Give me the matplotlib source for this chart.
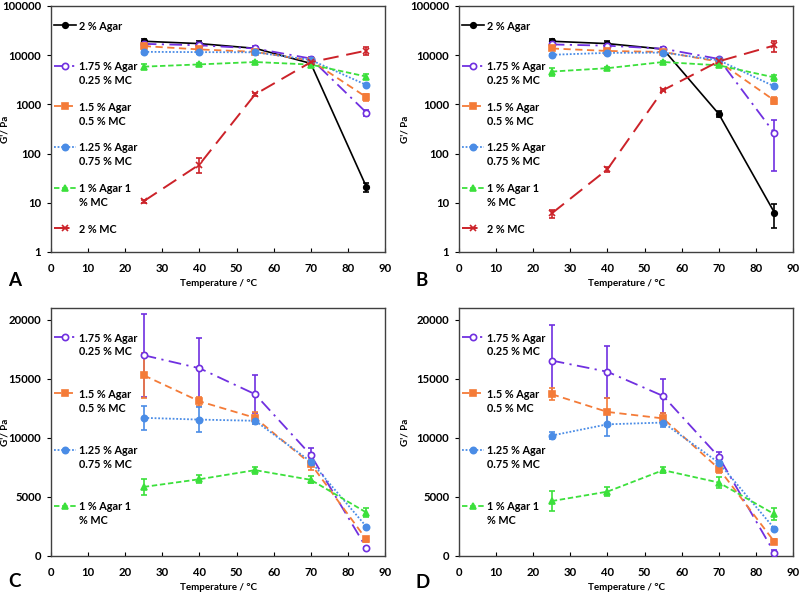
import matplotlib
matplotlib.use("Agg")
import matplotlib.pyplot as plt
from matplotlib.legend_handler import HandlerLine2D
from matplotlib.ticker import FixedLocator, FixedFormatter

plt.rcParams['font.family'] = ['Lato', 'DejaVu Sans']
plt.rcParams['font.weight'] = 'bold'

temps = [25, 40, 55, 70, 85]

# Day 1 (panels A, C)
agar2_1 = [19200, 17200, 13800, 6800, 21]
agar2_1_err = [2000, 1800, 1000, 600, 4.5]
a175_1 = [17000, 15900, 13700, 8550, 680]
a175_1_err = [3500, 2600, 1600, 600, 100]
a150_1 = [15300, 13100, 11700, 7800, 1400]
a150_1_err = [1900, 400, 500, 500, 200]
a125_1 = [11700, 11550, 11450, 8000, 2480]
a125_1_err = [1000, 1050, 300, 400, 100]
a100_1 = [5850, 6500, 7270, 6450, 3680]
a100_1_err = [700, 350, 300, 300, 400]
mc2_1 = [10.8, 60, 1600, 7200, 12400]
mc2_1_err = [0.8, 20, 100, 500, 2500]

# Day 2 (panels B, D)
agar2_2 = [19200, 17200, 13300, 640, 6.3]
agar2_2_err = [2000, 1800, 800, 80, 3.2]
a175_2 = [16550, 15600, 13550, 8400, 260]
a175_2_err = [3000, 2200, 1400, 400, 215]
a150_2 = [13700, 12200, 11650, 7400, 1200]
a150_2_err = [500, 1200, 500, 400, 200]
a125_2 = [10200, 11150, 11300, 7900, 2320]
a125_2_err = [300, 1000, 400, 300, 100]
a100_2 = [4650, 5450, 7270, 6220, 3540]
a100_2_err = [850, 400, 250, 500, 500]
mc2_2 = [6.1, 48, 1950, 7500, 15800]
mc2_2_err = [1.2, 6, 100, 500, 4000]

labels = ["2 % Agar", "1.75 % Agar\n0.25 % MC", "1.5 % Agar\n0.5 % MC",
          "1.25 % Agar\n0.75 % MC", "1 % Agar 1\n% MC", "2 % MC"]
log_ticks = [1, 10, 100, 1000, 10000, 100000]
log_tick_labels = ["1", "10", "100", "1000", "10000", "100000"]
lin_ticks = [0, 5000, 10000, 15000, 20000]
lin_tick_labels = ["0", "5000", "10000", "15000", "20000"]
x_ticks = [0, 10, 20, 30, 40, 50, 60, 70, 80, 90]

styles = [
    dict(color='#000000', ls='-', marker='o', mfc='#000000', ms=4, lw=1.2),
    dict(color='#7030E0', ls=(0, (7, 3, 1.2, 3)), marker='o', mfc='white', ms=4.5, lw=1.3),
    dict(color='#F47B38', ls=(0, (4, 2.5)), marker='s', mfc='#F47B38', ms=4.5, lw=1.3),
    dict(color='#4A8CE6', ls=(0, (1, 1)), marker='o', mfc='#4A8CE6', ms=4.5, lw=1.3),
    dict(color='#3CE03C', ls=(0, (3, 1.5)), marker='^', mfc='#3CE03C', ms=4.5, lw=1.3),
    dict(color='#CC2229', ls=(0, (8, 4)), marker='x', mfc='#CC2229', ms=5, lw=1.4),
]

FS = 7.8
LSP = 1.32


class ShiftedHandler(HandlerLine2D):
    def create_artists(self, legend, orig_handle, xdescent, ydescent,
                       width, height, fontsize, trans):
        arts = super().create_artists(legend, orig_handle, xdescent, ydescent,
                                      width, height, fontsize, trans)
        off = 0.5 * fontsize * 1.2 * LSP
        for a in arts:
            y = a.get_ydata()
            a.set_ydata([v + off for v in y])
        return arts


fig = plt.figure(figsize=(8.01, 5.93), dpi=100)

pos = {
    'A': [51 / 801, 1 - 252 / 593, 334 / 801, 246 / 593],
    'B': [459 / 801, 1 - 252 / 593, 334 / 801, 246 / 593],
    'C': [51 / 801, 1 - 556 / 593, 334 / 801, 248 / 593],
    'D': [459 / 801, 1 - 556 / 593, 334 / 801, 248 / 593],
}
ylab_x = {'A': -0.124, 'B': -0.148, 'C': -0.124, 'D': -0.148}
letter_drop = {'A': 34, 'B': 34, 'C': 31, 'D': 32}

datasets = {
    'A': ([agar2_1, a175_1, a150_1, a125_1, a100_1, mc2_1],
          [agar2_1_err, a175_1_err, a150_1_err, a125_1_err, a100_1_err, mc2_1_err]),
    'B': ([agar2_2, a175_2, a150_2, a125_2, a100_2, mc2_2],
          [agar2_2_err, a175_2_err, a150_2_err, a125_2_err, a100_2_err, mc2_2_err]),
}
datasets['C'] = (datasets['A'][0][1:5], datasets['A'][1][1:5])
datasets['D'] = (datasets['B'][0][1:5], datasets['B'][1][1:5])


def draw(key):
    ax = fig.add_axes(pos[key])
    vals, errs = datasets[key]
    is_log = key in ('A', 'B')
    idx = range(6) if is_log else range(1, 5)
    handles = []
    for i, v, e in zip(idx, vals, errs):
        st = styles[i]
        ax.errorbar(temps, v, yerr=e, fmt='none', ecolor=st['color'],
                    elinewidth=1.2, capsize=2.5, capthick=1.2, zorder=2)
        ln, = ax.plot(temps, v, color=st['color'], ls=st['ls'], lw=st['lw'],
                      marker=st['marker'], mfc=st['mfc'], mec=st['color'],
                      ms=st['ms'], mew=1.2, zorder=3)
        handles.append(ln)
    ax.set_xlim(0, 90)
    ax.xaxis.set_major_locator(FixedLocator(x_ticks))
    if is_log:
        ax.set_yscale('log')
        ax.set_ylim(1, 100000)
        ax.yaxis.set_major_locator(FixedLocator(log_ticks))
        ax.yaxis.set_major_formatter(FixedFormatter(log_tick_labels))
        ax.yaxis.set_minor_locator(FixedLocator([]))
        spacing = 1.45
        bta = (-0.01, 0.967)
    else:
        ax.set_ylim(0, 21000)
        ax.yaxis.set_major_locator(FixedLocator(lin_ticks))
        ax.yaxis.set_major_formatter(FixedFormatter(lin_tick_labels))
        spacing = 2.9
        bta = (-0.01, 0.927)
    labs = [labels[i] if '\n' in labels[i] else labels[i] + "\n " for i in idx]
    leg = ax.legend(handles, labs, loc='upper left', bbox_to_anchor=bta,
                    frameon=False, fontsize=FS, labelspacing=spacing,
                    handlelength=2.05, handletextpad=0.25, borderaxespad=0.2,
                    handler_map={h: ShiftedHandler() for h in handles})
    for t in leg.get_texts():
        t.set_fontweight('bold')
        t.set_linespacing(LSP)
    ax.tick_params(axis='x', direction='in', length=3, labelsize=8.2, pad=8)
    ax.tick_params(axis='y', direction='out', length=3, labelsize=8.2, pad=4)
    for lab in ax.get_xticklabels() + ax.get_yticklabels():
        lab.set_fontweight('bold')
    for s in ax.spines.values():
        s.set_color('#404040')
        s.set_linewidth(1.0)
    ax.set_xlabel('Temperature / °C', fontsize=7.1, fontweight='bold', labelpad=3.5)
    ax.set_ylabel("G'/ Pa", fontsize=7.1, fontweight='bold')
    ax.yaxis.set_label_coords(ylab_x[key], 0.5)
    p = pos[key]
    fig.text(p[0] - 43 / 801, p[1] - letter_drop[key] / 593, key, fontsize=13.5,
             fontweight='bold', va='baseline', ha='left')
    return ax


for k in ['A', 'B', 'C', 'D']:
    draw(k)

fig.savefig('out.png', dpi=100)
